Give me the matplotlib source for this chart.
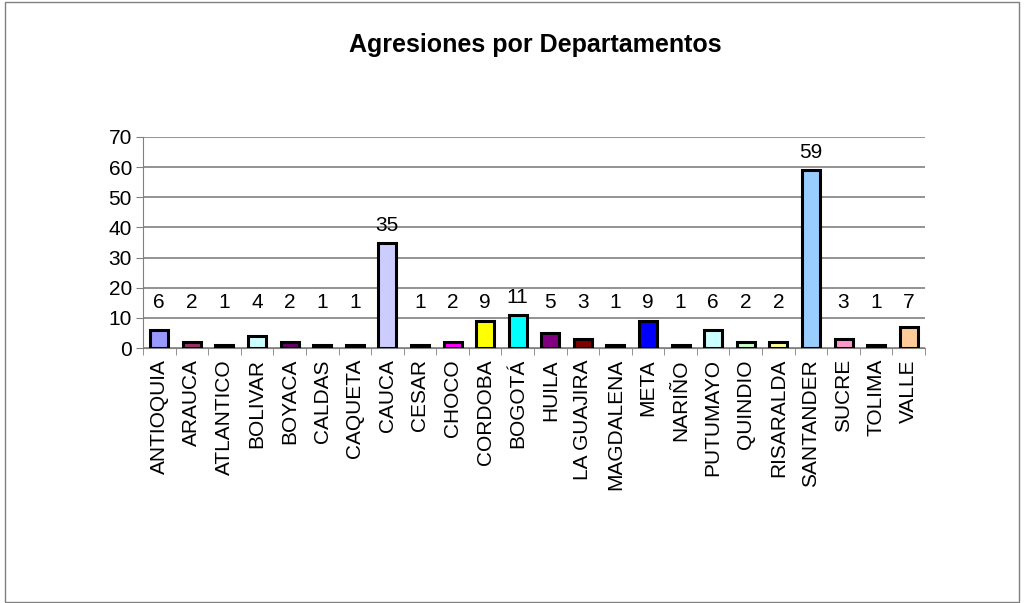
import matplotlib.pyplot as plt
import numpy as np
from matplotlib.patches import Rectangle

plt.rcParams['font.family'] = ['Liberation Sans', 'DejaVu Sans']

# data
departamentos = ['ANTIOQUIA', 'ARAUCA', 'ATLANTICO', 'BOLIVAR', 'BOYACA', 'CALDAS',
                 'CAQUETA', 'CAUCA', 'CESAR', 'CHOCO', 'CORDOBA', 'BOGOTÁ', 'HUILA',
                 'LA GUAJIRA', 'MAGDALENA', 'META', 'NARIÑO', 'PUTUMAYO', 'QUINDIO',
                 'RISARALDA', 'SANTANDER', 'SUCRE', 'TOLIMA', 'VALLE']
agresiones = [6, 2, 1, 4, 2, 1, 1, 35, 1, 2, 9, 11, 5, 3, 1, 9, 1, 6, 2, 2, 59, 3, 1, 7]
colores = ['#9999FF', '#993366', '#808080', '#CCFFFF', '#660066', '#FF8080',
           '#0066CC', '#CCCCFF', '#000080', '#FF00FF', '#FFFF00', '#00FFFF',
           '#800080', '#800000', '#008080', '#0000FF', '#008080', '#CCFFFF',
           '#CCFFCC', '#FFFF99', '#99CCFF', '#FF99CC', '#CC99FF', '#FFCC99']

fig = plt.figure(figsize=(10.24, 6.03), dpi=100)
fig.patches.append(Rectangle((5/1024, 1/603), 1014/1024, 600/603, transform=fig.transFigure,
                             fill=False, edgecolor='#808080', linewidth=1))

ax = fig.add_axes([143/1024, 1-348/603, 782/1024, 211/603])
x = np.arange(len(departamentos))
ax.bar(x, agresiones, width=0.55, color=colores, edgecolor='black', linewidth=2.2, zorder=3)

# etiquetas de valor (las pequeñas quedan alineadas a la misma altura)
for xi, v in zip(x, agresiones):
    ax.text(xi, max(v, 9.5) + 2.6, str(v), ha='center', va='bottom', fontsize=15)

ax.set_xlim(-0.5, len(departamentos) - 0.5)
ax.set_ylim(0, 70)
ax.set_yticks(range(0, 71, 10))
ax.yaxis.grid(True, color='#808080', linewidth=1.2)
ax.set_axisbelow(True)

ax.set_xticks(x)
ax.set_xticklabels(departamentos, rotation=90, fontsize=15)
ax.tick_params(axis='x', length=0, pad=8)
ax.set_xticks(np.arange(-0.5, len(departamentos)), minor=True)
ax.tick_params(axis='x', which='minor', length=5, color='#808080')
ax.tick_params(axis='y', labelsize=15, length=5, color='#808080', pad=3)

for s in ['top', 'right']:
    ax.spines[s].set_visible(False)
ax.spines['left'].set_color('#808080')
ax.spines['bottom'].set_color('#808080')

fig.text(535/1024, 1-45/603, 'Agresiones por Departamentos', ha='center', va='center',
         fontsize=18, fontweight='bold')

plt.savefig('out.png', dpi=100)
